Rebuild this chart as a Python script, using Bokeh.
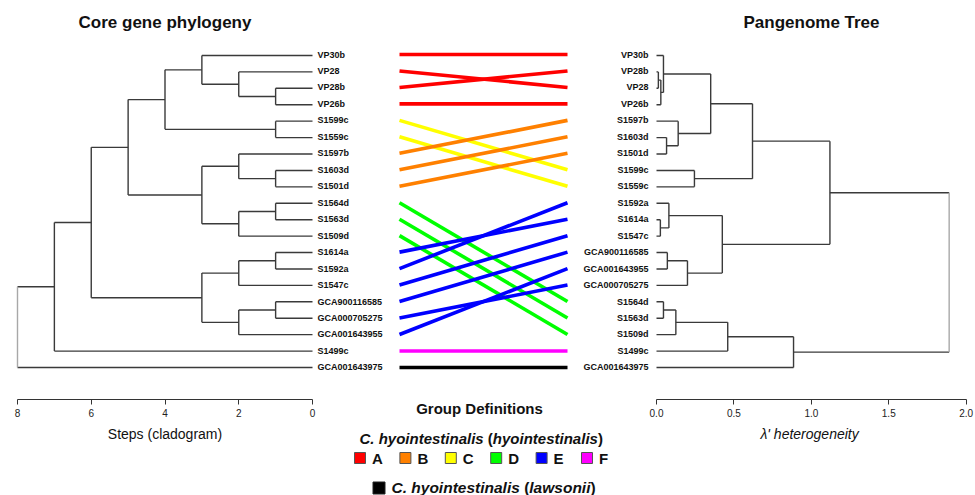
from bokeh.plotting import figure
from bokeh.layouts import row, column
from bokeh.models import Range1d, FixedTicker, PrintfTickFormatter, ColumnDataSource
from bokeh.embed import file_html
from bokeh.resources import INLINE
from bokeh.core.properties import value

FONT = "Liberation Sans"

# ---------------- data ----------------
left_leaves = ["VP30b", "VP28", "VP28b", "VP26b", "S1599c", "S1559c", "S1597b", "S1603d",
               "S1501d", "S1564d", "S1563d", "S1509d", "S1614a", "S1592a", "S1547c",
               "GCA900116585", "GCA000705275", "GCA001643955", "S1499c", "GCA001643975"]
left_groups = ["A", "A", "A", "A", "C", "C", "B", "B", "B", "D", "D", "D",
               "E", "E", "E", "E", "E", "E", "F", "L"]
# hclust-style merges (negative = leaf index, positive = earlier merge), height in steps
left_merge_a = [-3, -2, -1, -5, 3, -8, -7, -10, 8, 7, 5, -13, 12, -16, 14, 13, 11, 17, 18]
left_merge_b = [-4, 1, 2, -6, 4, -9, 6, -11, -12, 9, 10, -14, -15, -17, -18, 15, 16, -19, -20]
left_merge_h = [1, 2, 3, 1, 4, 1, 2, 1, 2, 3, 5, 1, 2, 1, 2, 3, 6, 7, 8]

right_leaves = ["VP30b", "VP28b", "VP28", "VP26b", "S1597b", "S1603d", "S1501d", "S1599c",
                "S1559c", "S1592a", "S1614a", "S1547c", "GCA900116585", "GCA001643955",
                "GCA000705275", "S1564d", "S1563d", "S1509d", "S1499c", "GCA001643975"]
right_merge_a = [-2, 1, -1, -6, -5, 3, -8, 6, -11, -10, -13, 11, 10, 8, -16, 15, 16, 17, 14]
right_merge_b = [-3, -4, 2, -7, 4, 5, -9, 7, -12, 9, -14, -15, 12, 13, -17, -18, -19, -20, 18]
right_merge_h = [0.012, 0.028, 0.045, 0.065, 0.14, 0.35, 0.245, 0.62, 0.025, 0.08, 0.07,
                 0.2, 0.425, 1.12, 0.045, 0.125, 0.46, 0.885, 1.89]

group_labels = ["A", "B", "C", "D", "E", "F"]
group_colors = ["#FF0000", "#FF8000", "#FFFF00", "#00FF00", "#0000FF", "#FF00FF"]
lawsonii_color = "#000000"

left_ticks = [0, 2, 4, 6, 8]
right_ticks = [0, 0.5, 1.0, 1.5, 2.0]

# ---------------- layout helpers (pixels) ----------------
ROW0, DROW = 54.0, 16.47
def row_of(px):
    return (px - ROW0) / DROW

TREE_COL = "#3a3a3a"
ROOT_COL = "#a8a8a8"

def tree_segments(ma, mb, mh):
    node_y = []
    d = dict(x0=[], y0=[], x1=[], y1=[], c=[])
    def get(k):
        if k < 0:
            return float(-k - 1), 0.0
        return node_y[k - 1], mh[k - 1]
    n = len(ma)
    for i, (a, b, h) in enumerate(zip(ma, mb, mh)):
        ya, ha = get(a)
        yb, hb = get(b)
        for (yy, hh) in ((ya, ha), (yb, hb)):
            d["x0"].append(hh); d["y0"].append(yy); d["x1"].append(h); d["y1"].append(yy)
            d["c"].append(TREE_COL)
        d["x0"].append(h); d["y0"].append(ya); d["x1"].append(h); d["y1"].append(yb)
        d["c"].append(ROOT_COL if i == n - 1 else TREE_COL)
        node_y.append((ya + yb) / 2.0)
    return ColumnDataSource(d)

def style_axis(ax, ticks, bounds):
    ax.ticker = FixedTicker(ticks=ticks)
    ax.bounds = bounds
    ax.major_tick_out = 5
    ax.major_tick_in = 0
    ax.minor_tick_line_color = None
    ax.axis_line_color = "#333333"
    ax.major_tick_line_color = "#333333"
    ax.major_label_text_font = FONT
    ax.major_label_text_font_size = "10px"
    ax.major_label_text_color = "#222222"
    ax.major_label_standoff = 4
    ax.axis_label_text_font = FONT
    ax.axis_label_text_font_size = "14px"
    ax.axis_label_text_font_style = "normal"
    ax.axis_label_text_color = "#111111"
    ax.axis_label_standoff = 6

def style_title(p, size="17px"):
    p.title.align = "center"
    p.title.text_font = FONT
    p.title.text_font_size = size
    p.title.text_font_style = "bold"
    p.title.text_color = "#111111"
    p.title.standoff = 20

FRAME_TOP, AXIS_Y, H = 40, 399, 495

# ---------------- left tree ----------------
LSC = 36.875  # px per step
left = figure(width=316, height=H, title="Core gene phylogeny",
              x_range=Range1d(8 + 3 / LSC, -3 / LSC),
              y_range=Range1d(row_of(AXIS_Y), row_of(FRAME_TOP)),
              min_border_left=14, min_border_right=1, min_border_top=FRAME_TOP,
              min_border_bottom=H - AXIS_Y, y_axis_location=None,
              output_backend="svg", toolbar_location=None)
left.segment("x0", "y0", "x1", "y1", source=tree_segments(left_merge_a, left_merge_b, left_merge_h),
             line_color="c", line_width=1.4)
style_axis(left.xaxis[0], left_ticks, (0, 8))
left.xaxis[0].axis_label = "Steps (cladogram)"
style_title(left)

# ---------------- middle (links, labels, legend) ----------------
MX0, MSC = 399.0, 168.0
def mx(px):
    return (px - MX0) / MSC

MID_L, MID_R = 316, 649
mid = figure(width=MID_R - MID_L, height=H, title=None,
             x_range=Range1d(mx(MID_L), mx(MID_R)), y_range=Range1d(row_of(H), row_of(0)),
             min_border=0, x_axis_location=None, y_axis_location=None,
             output_backend="svg", toolbar_location=None)

col_of = dict(zip(group_labels, group_colors))
col_of["L"] = lawsonii_color
link = dict(x0=[], y0=[], x1=[], y1=[], c=[])
for i, (name, g) in enumerate(zip(left_leaves, left_groups)):
    link["x0"].append(0.0); link["y0"].append(i)
    link["x1"].append(1.0); link["y1"].append(right_leaves.index(name))
    link["c"].append(col_of[g])
mid.segment("x0", "y0", "x1", "y1", source=ColumnDataSource(link), line_color="c", line_width=3.6)

lab_kw = dict(text_baseline="middle", text_font=value(FONT), text_font_style="bold",
              text_font_size="9px", text_color="#111111")
mid.text(x=[mx(317)] * len(left_leaves), y=list(range(len(left_leaves))), text=left_leaves,
         text_align="left", **lab_kw)
mid.text(x=[mx(648)] * len(right_leaves), y=list(range(len(right_leaves))), text=right_leaves,
         text_align="right", **lab_kw)

# legend
AW = {'C': 722, '.': 278, ' ': 278, 'h': 611, 'y': 556, 'o': 611, 'i': 278, 'n': 611, 't': 333,
      'e': 556, 's': 556, 'a': 556, 'l': 278, '(': 333, ')': 333, 'w': 778}
def tw(s, size):
    return sum(AW.get(ch, 556) for ch in s) * size / 1000.0

def rich(parts, x_px, y_px, size):
    x = x_px
    for s, style in parts:
        mid.text(x=[mx(x)], y=[row_of(y_px)], text=[s.strip()], text_align="left",
                 text_baseline="middle", text_font=value(FONT), text_font_style=style,
                 text_font_size=f"{size}px", text_color="#111111")
        x += tw(s, size)

mid.text(x=[mx(479)], y=[row_of(408)], text=["Group Definitions"], text_align="center",
         text_baseline="middle", text_font=value(FONT), text_font_style="bold",
         text_font_size="15px", text_color="#111111")
rich([("C. hyointestinalis ", "bold italic"), ("(", "bold"), ("hyointestinalis", "bold italic"),
      (")", "bold")], 359, 438, 15)

box_x = [359.5 + 45.4 * k for k in range(len(group_labels))]
mid.scatter(x=[mx(b) for b in box_x], y=[row_of(457.5)] * len(box_x), marker="square", size=11,
            fill_color=group_colors, line_color="#555555", line_width=1)
mid.text(x=[mx(b + 12) for b in box_x], y=[row_of(458)] * len(box_x), text=group_labels,
         text_align="left", text_baseline="middle", text_font=value(FONT),
         text_font_style="bold", text_font_size="15px", text_color="#111111")

mid.scatter(x=[mx(378.5)], y=[row_of(487.5)], marker="square", size=12,
            fill_color=lawsonii_color, line_color="#222222")
rich([("C. hyointestinalis ", "bold italic"), ("(", "bold"), ("lawsonii", "bold italic"),
      (")", "bold")], 391, 487, 15.5)

# ---------------- right tree ----------------
RSC = 154.85  # px per unit
R_L = MID_R
right = figure(width=975 - R_L, height=H, title="Pangenome Tree",
               x_range=Range1d((R_L + 1 - 656) / RSC, (972 - 656) / RSC),
               y_range=Range1d(row_of(AXIS_Y), row_of(FRAME_TOP)),
               min_border_left=1, min_border_right=3, min_border_top=FRAME_TOP,
               min_border_bottom=H - AXIS_Y, y_axis_location=None,
               output_backend="svg", toolbar_location=None)
right.segment("x0", "y0", "x1", "y1",
              source=tree_segments(right_merge_a, right_merge_b, right_merge_h),
              line_color="c", line_width=1.4)
style_axis(right.xaxis[0], right_ticks, (0, 2))
right.xaxis[0].formatter = PrintfTickFormatter(format="%.1f")
right.xaxis[0].axis_label = "λ'  heterogeneity"
right.xaxis[0].axis_label_text_font_style = "italic"
style_title(right)

for p in (left, mid, right):
    p.grid.visible = False
    p.outline_line_color = None
    p.background_fill_color = "white"
    p.border_fill_color = "white"

layout = row(left, column(mid), right)
open("out.html", "w").write(file_html(layout, INLINE))
